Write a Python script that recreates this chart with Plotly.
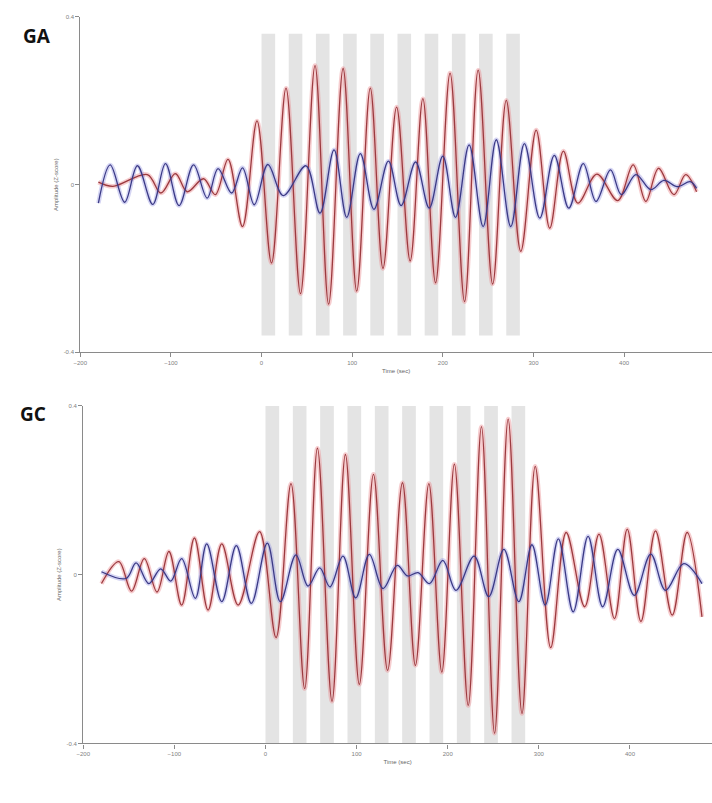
import plotly.graph_objects as go

# ---------------- data (extrema) ----------------
ga_red_t = [-180, -164, -126, -111, -95, -82, -64, -51, -37, -21, -5, 11, 27, 43, 59, 74, 90, 105,
            120, 134, 149, 164, 178, 192, 208, 224, 239, 255, 270, 286, 303, 318, 333, 349, 370,
            393, 410, 424, 438, 455, 468, 480]
ga_red_v = [0.006, -0.004, 0.024, -0.02, 0.026, -0.017, 0.014, -0.024, 0.06, -0.10, 0.152, -0.187,
            0.23, -0.26, 0.284, -0.285, 0.277, -0.254, 0.23, -0.20, 0.185, -0.182, 0.205, -0.234,
            0.266, -0.279, 0.273, -0.237, 0.201, -0.159, 0.13, -0.104, 0.08, -0.044, 0.025,
            -0.038, 0.047, -0.04, 0.039, -0.024, 0.024, -0.017]

ga_blue_t = [-180, -167, -151, -137, -120, -106, -91, -75, -60, -48, -33, -21, -8, 7, 24, 49, 64.5,
             80, 94, 109, 124, 140, 154, 170, 185, 200, 214, 229, 244.5, 259, 275, 290, 307, 323,
             339, 355, 369, 385, 397, 413, 429.5, 444, 458.7, 473, 480]
ga_blue_v = [-0.044, 0.047, -0.042, 0.045, -0.047, 0.05, -0.05, 0.047, -0.032, 0.038, -0.02, 0.04,
             -0.048, 0.048, -0.026, 0.045, -0.068, 0.083, -0.078, 0.074, -0.059, 0.056, -0.05,
             0.054, -0.056, 0.068, -0.078, 0.095, -0.10, 0.107, -0.10, 0.098, -0.08, 0.07,
             -0.056, 0.05, -0.04, 0.035, -0.024, 0.024, -0.012, 0.01, -0.005, 0.007, -0.009]

gc_red_t = [-180, -161, -147, -133, -119, -106, -92, -78, -63, -48, -30, -6.5, 11.6, 28, 43, 57, 73,
            87.7, 103, 118.5, 134, 150.3, 164.5, 179.3, 193.5, 207.3, 222.5, 237, 251.4, 266.3,
            281.5, 296, 313, 330, 350.3, 366, 383, 397, 412, 428, 446.4, 462.7, 479]
gc_red_v = [-0.021, 0.031, -0.039, 0.038, -0.041, 0.055, -0.072, 0.087, -0.084, 0.073, -0.072,
            0.102, -0.149, 0.216, -0.27, 0.30, -0.30, 0.285, -0.26, 0.238, -0.227, 0.218, -0.215,
            0.216, -0.231, 0.262, -0.31, 0.351, -0.376, 0.369, -0.329, 0.257, -0.173, 0.10,
            -0.076, 0.096, -0.104, 0.108, -0.111, 0.104, -0.096, 0.10, -0.10]

gc_blue_t = [-180, -153, -142, -128, -115, -104, -92, -77, -64.5, -48, -32, -15.5, 2, 16.3, 33.4,
             46.7, 59.5, 70.7, 85, 99, 114, 129, 144.6, 156, 167.4, 180, 194.6, 209, 229, 245,
             261.6, 278, 292.4, 307, 321.4, 337.7, 354, 370, 386.6, 404.7, 422.8, 439, 459, 479]
gc_blue_v = [0.007, -0.009, 0.028, -0.021, 0.014, -0.015, 0.038, -0.056, 0.073, -0.064, 0.069,
             -0.068, 0.075, -0.064, 0.047, -0.027, 0.016, -0.029, 0.044, -0.055, 0.048, -0.033,
             0.022, -0.003, 0.005, -0.021, 0.034, -0.037, 0.044, -0.052, 0.06, -0.064, 0.071,
             -0.072, 0.085, -0.088, 0.091, -0.076, 0.06, -0.049, 0.049, -0.037, 0.026, -0.021]

band_starts = [0, 30, 60, 90, 120, 150, 180, 210, 240, 270]
band_length = 15

x_ticks = [-200, -100, 0, 100, 200, 300, 400]
y_ticks = [-0.4, 0, 0.4]
y_tick_text = ["-0.4", "0", "0.4"]

panel_labels = ["GA", "GC"]
x_title = "Time (sec)"
y_title = "Amplitude (Z-score)"

# ---------------- styling ----------------
W, H = 712, 803
RED_CORE, RED_GLOW = "#9c3a3f", "rgba(232,130,135,0.40)"
BLUE_CORE, BLUE_GLOW = "#3b3a86", "rgba(150,150,225,0.40)"
BAND = "#e4e4e4"
AXIS = "#8a8a8a"

panels = [
    dict(red=(ga_red_t, ga_red_v), blue=(ga_blue_t, ga_blue_v),
         xdom=[74 / W, 1.0], xrange=[-200, 497],
         ydom=[1 - 352 / H, 1 - 14 / H], band_half=0.36,
         label_xy=(30 / W, 1 - 33 / H)),
    dict(red=(gc_red_t, gc_red_v), blue=(gc_blue_t, gc_blue_v),
         xdom=[77 / W, 1.0], xrange=[-200, 490],
         ydom=[1 - 746 / H, 1 - 406 / H], band_half=0.4,
         label_xy=(26 / W, 1 - 414 / H)),
]

fig = go.Figure()
shapes = []
annotations = []
for i, p in enumerate(panels):
    sfx = "" if i == 0 else str(i + 1)
    xa, ya = "x" + sfx, "y" + sfx
    # glow underlays first, then cores (red drawn before blue)
    for (t, v), glow in [(p["red"], RED_GLOW), (p["blue"], BLUE_GLOW)]:
        fig.add_trace(go.Scatter(x=t, y=v, mode="lines", xaxis=xa, yaxis=ya,
                                 line=dict(color=glow, width=4.5, shape="spline", smoothing=1.0),
                                 hoverinfo="skip", showlegend=False))
    for (t, v), core in [(p["red"], RED_CORE), (p["blue"], BLUE_CORE)]:
        fig.add_trace(go.Scatter(x=t, y=v, mode="lines", xaxis=xa, yaxis=ya,
                                 line=dict(color=core, width=1.3, shape="spline", smoothing=1.0),
                                 showlegend=False))
    for s in band_starts:
        shapes.append(dict(type="rect", xref=xa, yref=ya, x0=s, x1=s + band_length,
                           y0=-p["band_half"], y1=p["band_half"],
                           fillcolor=BAND, line=dict(width=0), layer="below"))
    annotations.append(dict(text="<b>%s</b>" % panel_labels[i], xref="paper", yref="paper",
                            x=p["label_xy"][0], y=p["label_xy"][1], showarrow=False,
                            xanchor="center", yanchor="middle",
                            font=dict(family="Open Sans", size=19, color="#111")))
    axis_common = dict(showline=True, linecolor=AXIS, linewidth=1.2, ticks="outside",
                       ticklen=4, tickcolor=AXIS, tickfont=dict(size=6, color="#808080"),
                       showgrid=False, zeroline=False)
    fig.update_layout(**{
        "xaxis" + sfx: dict(domain=p["xdom"], range=p["xrange"], anchor=ya, tickvals=x_ticks,
                            title=dict(text=x_title, font=dict(size=6, color="#666"), standoff=4),
                            **axis_common),
        "yaxis" + sfx: dict(domain=p["ydom"], range=[-0.4, 0.4], anchor=xa, tickvals=y_ticks,
                            ticktext=y_tick_text,
                            title=dict(text=y_title, font=dict(size=6, color="#666"), standoff=4),
                            **axis_common),
    })

fig.update_layout(width=W, height=H, margin=dict(l=0, r=0, t=0, b=0),
                  plot_bgcolor="white", paper_bgcolor="white",
                  font=dict(family="Liberation Sans"),
                  shapes=shapes, annotations=annotations, showlegend=False)

fig.write_html("out.html")
